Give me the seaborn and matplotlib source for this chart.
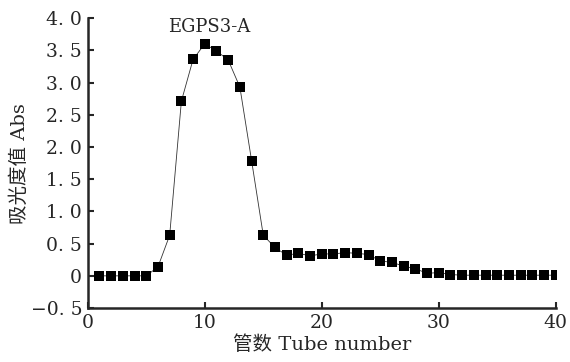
import matplotlib

matplotlib.use("Agg")
import matplotlib.pyplot as plt
import pandas as pd
import seaborn as sns

# tube number vs absorbance
tubes = list(range(1, 41))
absorbance = [0, 0, 0, 0, 0, 0.14, 0.63, 2.71, 3.36, 3.60,
              3.49, 3.35, 2.93, 1.79, 0.63, 0.44, 0.32, 0.35, 0.31, 0.34,
              0.34, 0.36, 0.35, 0.33, 0.23, 0.21, 0.15, 0.11, 0.04, 0.05,
              0.02, 0.01, 0.01, 0.01, 0.01, 0.01, 0.01, 0.01, 0.01, 0.01]
y_ticks = [-0.5, 0, 0.5, 1.0, 1.5, 2.0, 2.5, 3.0, 3.5, 4.0]
y_ticklabels = ["\u22120. 5", "0", "0. 5", "1. 0", "1. 5", "2. 0", "2. 5", "3. 0", "3. 5", "4. 0"]
x_ticks = [0, 10, 20, 30, 40]
peak_label = "EGPS3-A"

df = pd.DataFrame({"tube": tubes, "abs": absorbance})

sns.set_style("ticks")
plt.rcParams["font.family"] = ["DejaVu Serif", "Noto Sans CJK SC"]

fig = plt.figure(figsize=(5.7, 3.62), dpi=100)
ax = fig.add_axes([0.154, 0.149, 0.821, 0.801])

sns.lineplot(data=df, x="tube", y="abs", ax=ax, color="#333333", linewidth=0.6,
             marker="s", markersize=6.5, markeredgewidth=0, markerfacecolor="black")

ax.set_xlim(0, 40)
ax.set_ylim(-0.5, 4.0)
ax.set_xticks(x_ticks)
ax.set_yticks(y_ticks)
ax.set_yticklabels(y_ticklabels)
ax.tick_params(direction="in", length=4, width=1.5, labelsize=13.5, pad=4)
for s in ["left", "bottom"]:
    ax.spines[s].set_linewidth(1.8)
sns.despine(ax=ax)

ax.text(10.4, 3.86, peak_label, ha="center", va="center", fontsize=13)
ax.set_xlabel("管数 Tube number", fontsize=14, labelpad=3)
ax.set_ylabel("吸光度值 Abs", fontsize=14, labelpad=1)

fig.savefig("out.png", dpi=100)
